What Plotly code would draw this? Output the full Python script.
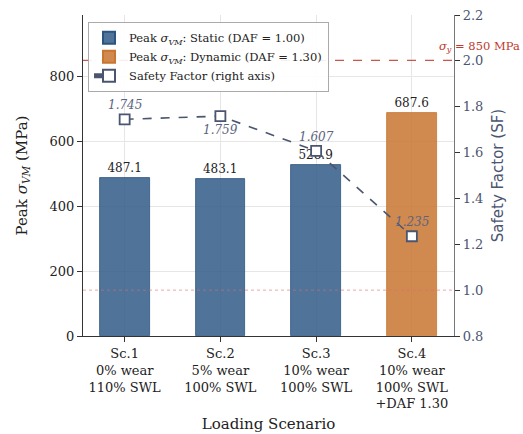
import plotly.graph_objects as go

categories = ["Sc.1<br>0% wear<br>110% SWL", "Sc.2<br>5% wear<br>100% SWL",
              "Sc.3<br>10% wear<br>100% SWL", "Sc.4<br>10% wear<br>100% SWL<br>+DAF 1.30"]
static_vals = [487.1, 483.1, 528.9]
dynamic_vals = [687.6]
sf_vals = [1.745, 1.759, 1.607, 1.235]
sf_label_side = [1, -1, 1, 1]
yield_stress = 850
left_ticks = [0, 200, 400, 600, 800]
right_ticks = [0.8, 1.0, 1.2, 1.4, 1.6, 1.8, 2.0, 2.2]

xs = list(range(len(categories)))
SERIF = "DejaVu Serif"
SLATE = "#4a5570"
RED = "#c0392b"

fig = go.Figure()
fig.add_trace(go.Bar(
    x=xs[:3], y=static_vals, width=0.52, name="Peak <i>σ</i><sub><i>VM</i></sub>: Static (DAF = 1.00)",
    marker=dict(color="rgba(48,90,135,0.85)", line=dict(color="#2c5480", width=0.8)),
    text=[f"{v:.1f}" for v in static_vals], textposition="outside",
    textfont=dict(family=SERIF, size=12, color="#222"), cliponaxis=False))
fig.add_trace(go.Bar(
    x=xs[3:], y=dynamic_vals, width=0.52, name="Peak <i>σ</i><sub><i>VM</i></sub>: Dynamic (DAF = 1.30)",
    marker=dict(color="rgba(200,118,48,0.85)", line=dict(color="#c87630", width=0.8)),
    text=[f"{v:.1f}" for v in dynamic_vals], textposition="outside",
    textfont=dict(family=SERIF, size=12, color="#222"), cliponaxis=False))
fig.add_trace(go.Scatter(
    x=xs, y=sf_vals, yaxis="y2", mode="lines+markers", name="Safety Factor (right axis)",
    line=dict(color=SLATE, width=1.6, dash="dash"),
    marker=dict(symbol="square", size=10, color="white", line=dict(color=SLATE, width=1.8))))

for x, v, s in zip(xs, sf_vals, sf_label_side):
    fig.add_annotation(x=x, y=v, xref="x", yref="y2", text=f"<i>{v:.3f}</i>", showarrow=False,
                       yshift=14 * s, font=dict(family=SERIF, size=12, color="#5a6480"))

fig.add_shape(type="line", xref="paper", x0=0, x1=1, yref="y", y0=yield_stress, y1=yield_stress,
              line=dict(color="rgba(192,57,43,0.85)", width=1.3, dash="dash"))
fig.add_shape(type="line", xref="paper", x0=0, x1=1, yref="y2", y0=1.0, y1=1.0,
              line=dict(color="rgba(220,110,110,0.6)", width=1, dash="dot"))
fig.add_annotation(xref="paper", yref="y", x=1.183, y=yield_stress, yshift=14,
                   text="<i>σ</i><sub><i>y</i></sub> = 850 MPa", showarrow=False,
                   xanchor="right", font=dict(family=SERIF, size=11.5, color=RED))

fig.update_layout(
    width=523, height=434, margin=dict(l=83, r=69, t=15, b=98, autoexpand=False),
    plot_bgcolor="white", paper_bgcolor="white", bargap=0,
    font=dict(family=SERIF, size=13, color="#222"),
    xaxis=dict(range=[-0.435, 3.44], tickvals=xs, ticktext=categories, automargin=False,
               showgrid=True, gridcolor="#e6e6e6", gridwidth=1,
               showline=True, linecolor="#333", linewidth=1.2, ticks="outside", ticklen=5,
               tickcolor="#333", zeroline=False,
               title=dict(text="Loading Scenario", font=dict(size=15, family=SERIF), standoff=8),
               tickfont=dict(size=13, family=SERIF)),
    yaxis=dict(range=[0, 990], tickvals=left_ticks, showgrid=True, gridcolor="#e6e6e6", automargin=False,
               showline=True, linecolor="#333", linewidth=1.2, ticks="outside", ticklen=5,
               tickcolor="#333", zeroline=False,
               title=dict(text="Peak <i>σ</i><sub><i>VM</i></sub> (MPa)", font=dict(size=15, family=SERIF), standoff=18),
               tickfont=dict(size=13, family=SERIF)),
    yaxis2=dict(range=[0.8, 2.2], tickvals=right_ticks, ticktext=[f"{t:.1f}" for t in right_ticks],
                overlaying="y", side="right", showgrid=False, zeroline=False, automargin=False,
                showline=True, linecolor="#777", linewidth=1.2, ticks="outside", ticklen=5,
                tickcolor="#333",
                tickfont=dict(size=13, family=SERIF, color=SLATE),
                title=dict(text="Safety Factor (SF)", font=dict(size=15, family="DejaVu Sans", color=SLATE), standoff=10)),
    legend=dict(x=0.013, y=0.978, xanchor="left", yanchor="top",
                bgcolor="rgba(255,255,255,0.9)", bordercolor="#aaa", borderwidth=1.2,
                font=dict(family=SERIF, size=11.5, color="#222"), tracegroupgap=0,
                itemsizing="constant"),
)
fig.write_html("out.html", config={"displayModeBar": False},
               post_script="document.body.style.margin='0';")
